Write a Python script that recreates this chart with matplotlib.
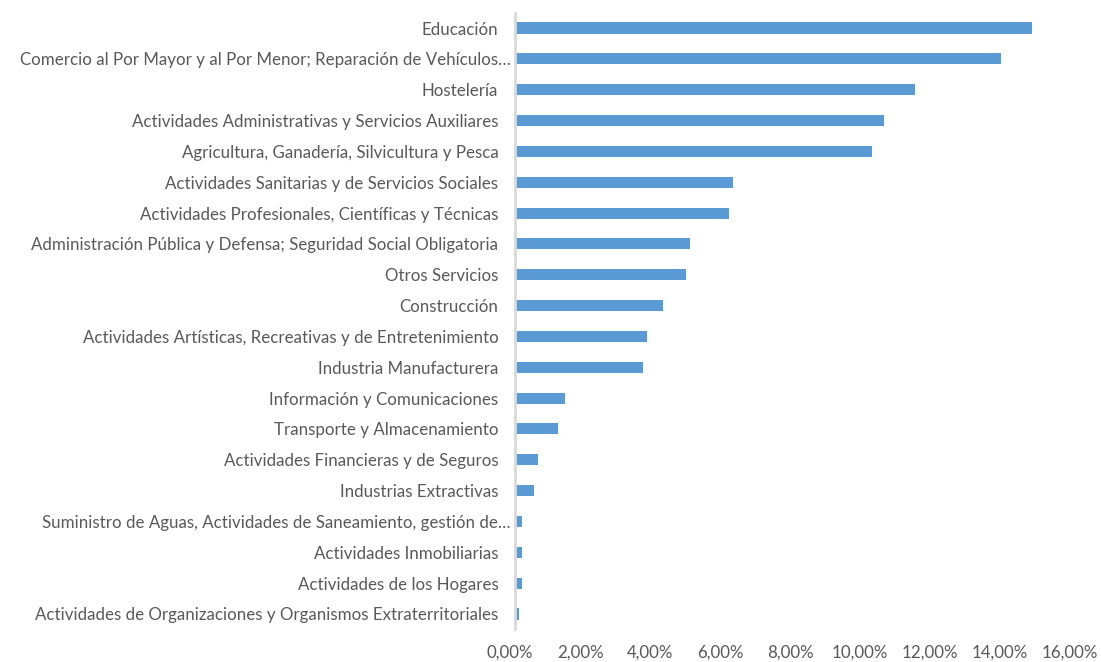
import matplotlib
matplotlib.use("Agg")
from matplotlib import pyplot as plt
from matplotlib.ticker import FuncFormatter
from matplotlib.transforms import ScaledTranslation

sectores = [
    "Educación",
    "Comercio al Por Mayor y al Por Menor; Reparación de Vehículos…",
    "Hostelería",
    "Actividades Administrativas y Servicios Auxiliares",
    "Agricultura, Ganadería, Silvicultura y Pesca",
    "Actividades Sanitarias y de Servicios Sociales",
    "Actividades Profesionales, Científicas y Técnicas",
    "Administración Pública y Defensa; Seguridad Social Obligatoria",
    "Otros Servicios",
    "Construcción",
    "Actividades Artísticas, Recreativas y de Entretenimiento",
    "Industria Manufacturera",
    "Información y Comunicaciones",
    "Transporte y Almacenamiento",
    "Actividades Financieras y de Seguros",
    "Industrias Extractivas",
    "Suministro de Aguas, Actividades de Saneamiento, gestión de…",
    "Actividades Inmobiliarias",
    "Actividades de los Hogares",
    "Actividades de Organizaciones y Organismos Extraterritoriales",
]
porcentajes = [14.76, 13.88, 11.43, 10.54, 10.20, 6.22, 6.11, 5.00, 4.89, 4.22,
               3.77, 3.66, 1.44, 1.22, 0.67, 0.55, 0.21, 0.21, 0.21, 0.11]
ticks = [0, 2, 4, 6, 8, 10, 12, 14, 16]

plt.rcParams['font.family'] = ['Lato', 'DejaVu Sans']
texto = '#595959'

fig = plt.figure(figsize=(11.01, 6.62), dpi=100)
ax = fig.add_axes([515 / 1101, 1 - 629.4 / 662, 560 / 1101, (629.4 - 12.6) / 662])

pos = list(range(len(sectores)))
ax.barh(pos, porcentajes, height=0.36, color='#5B9BD5')
ax.set_ylim(len(sectores) - 0.5, -0.5)
ax.set_xlim(0, 16)
ax.set_yticks(pos)
ax.set_yticklabels(sectores)
ax.set_xticks(ticks)
ax.xaxis.set_major_formatter(FuncFormatter(lambda v, p: f"{v:.2f}%".replace('.', ',')))

for s in ['top', 'right', 'bottom']:
    ax.spines[s].set_visible(False)
ax.spines['left'].set_color('#D9D9D9')
ax.spines['left'].set_linewidth(2)
ax.tick_params(axis='y', length=0, pad=12, labelsize=12.2, labelcolor=texto)
ax.tick_params(axis='x', length=0, pad=11, labelsize=12.2, labelcolor=texto)

# etiquetas recortadas (con "…") quedan más pegadas al eje, como en Excel
for lab in ax.get_yticklabels():
    if lab.get_text().endswith('…'):
        lab.set_transform(lab.get_transform() + ScaledTranslation(0.12, 0, fig.dpi_scale_trans))
for lab in ax.get_xticklabels():
    lab.set_transform(lab.get_transform() + ScaledTranslation(-0.05, 0, fig.dpi_scale_trans))

fig.savefig("out.png", dpi=100)
